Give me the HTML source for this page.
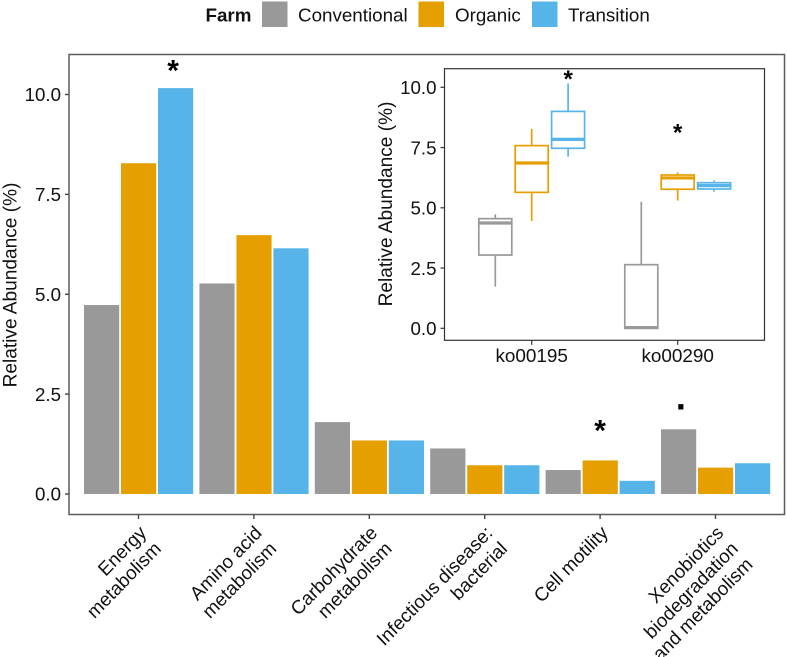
<!DOCTYPE html>
<html>
<head>
<meta charset="utf-8">
<style>
html,body{margin:0;padding:0;background:#fff;}
svg{display:block;font-family:"Liberation Sans",sans-serif;fill:#111;}
</style>
</head>
<body>
<svg id="chart" width="787" height="657" viewBox="0 0 787 657" xmlns="http://www.w3.org/2000/svg">
<rect width="787" height="657" fill="#fff"/>
<g font-size="18.8">
<text x="205.500" y="21.500" font-weight="bold">Farm</text>
<rect x="262" y="1.500" width="25.500" height="25.500" fill="#999999"/>
<text x="298" y="21.500">Conventional</text>
<rect x="418.500" y="1.500" width="25.500" height="25.500" fill="#E69F00"/>
<text x="455" y="21.500">Organic</text>
<rect x="532" y="1.500" width="25.500" height="25.500" fill="#56B4E9"/>
<text x="568" y="21.500">Transition</text>
</g>
<g id="main"></g>
<g id="inset"></g>
</svg>
<script>
var groupNames = ["Energy metabolism", "Amino acid metabolism", "Carbohydrate metabolism", "Infectious disease: bacterial", "Cell motility", "Xenobiotics biodegradation and metabolism"];
var groupLabelLines = [["Energy", "metabolism"], ["Amino acid", "metabolism"], ["Carbohydrate", "metabolism"], ["Infectious disease:", "bacterial"], ["Cell motility"], ["Xenobiotics", "biodegradation", "and metabolism"]];
var conventionalValues = [4.73, 5.27, 1.80, 1.14, 0.60, 1.62];
var organicValues = [8.28, 6.48, 1.34, 0.72, 0.84, 0.66];
var transitionValues = [10.16, 6.15, 1.34, 0.72, 0.33, 0.77];
var mainTicks = [0, 2.5, 5, 7.5, 10];
var markerSymbols = ["*", "*", "."];
var markerGroups = [0.3, 4, 4.7];
var markerHeights = [10.69, 1.68, 2.18];
var insetCategories = ["ko00195", "ko00290"];
var insetTicks = [0, 2.5, 5, 7.5, 10];
var boxConventional = [[1.73, 3.04, 4.37, 4.55, 4.73], [0, 0, 0.03, 2.64, 5.25]];
var boxOrganic = [[4.45, 5.64, 6.86, 7.58, 8.27], [5.30, 5.77, 6.24, 6.36, 6.47]];
var boxTransition = [[7.12, 7.47, 7.84, 9.00, 10.16], [5.67, 5.78, 5.92, 6.04, 6.14]];
var insetMarkerGroups = [0.25, 1];
var insetMarkerHeights = [10.42, 8.2];

var NS = "http://www.w3.org/2000/svg";
var COLORS = ["#999999", "#E69F00", "#56B4E9"];
var SERIES = ["conventional", "organic", "transition"];
function mk(parent, tag, attrs, text) {
  var el = document.createElementNS(NS, tag);
  for (var k in attrs) el.setAttribute(k, attrs[k]);
  if (text !== undefined) el.textContent = text;
  parent.appendChild(el);
  return el;
}
function slug(s) { return s.toLowerCase().replace(/[^a-z0-9]+/g, "-").replace(/-$/, ""); }

/* main chart */
var mainG = document.getElementById("main");
var P = {l: 69, r: 784.5, t: 54.5, b: 514.5};
function yMain(v) { return 494 - v * 39.95; }
function xMain(i) { return 138.5 + i * 115.4; }
var seriesValues = [conventionalValues, organicValues, transitionValues];

seriesValues.forEach(function (vals, s) {
  vals.forEach(function (v, i) {
    var bx = xMain(i) + (s - 1) * 37 - 17.5;
    var r = mk(mainG, "rect", {x: bx, y: yMain(v), width: 35.2, height: yMain(0) - yMain(v), fill: COLORS[s]});
    
    
  });
});
var frame = mk(mainG, "rect", {x: P.l, y: P.t, width: P.r - P.l, height: P.b - P.t, fill: "none", stroke: "#5c5c5c", "stroke-width": 1.5});



mainTicks.forEach(function (t) {
  var y = yMain(t);
  var tl = mk(mainG, "line", {x1: P.l - 4, x2: P.l, y1: y, y2: y, stroke: "#444", "stroke-width": 1.4});
  
  
  var lb = mk(mainG, "text", {x: 61, y: y + 6.7, "text-anchor": "end", "font-size": 18.7}, t.toFixed(1));
  
  
});
var yTitle = mk(mainG, "text", {transform: "translate(16.5,285) rotate(-90)", "text-anchor": "middle", "font-size": 19.1}, "Relative Abundance (%)");



groupLabelLines.forEach(function (lines, i) {
  var x = xMain(i);
  var tk = mk(mainG, "line", {x1: x, x2: x, y1: P.b, y2: P.b + 4.5, stroke: "#444", "stroke-width": 1.4});
  
  
  lines.forEach(function (line, j) {
    var lb = mk(mainG, "text", {transform: "translate(" + (x + 9 + j * 14.6) + "," + (534 + j * 15.8) + ") scale(1,1.03) rotate(-45)", "text-anchor": "end", "font-size": 18.7}, line);
    
    
  });
});

markerSymbols.forEach(function (sym, k) {
  var isDot = sym === ".";
  var t = mk(mainG, "text", {
    x: xMain(markerGroups[k]),
    y: yMain(markerHeights[k]) + (isDot ? 2.5 : 13.5),
    "text-anchor": "middle",
    "font-size": isDot ? 36 : 30,
    "font-weight": "bold",
    fill: "#000"
  }, sym);
  
  
});

/* inset chart */
var insetG = document.getElementById("inset");
var Q = {l: 444.5, r: 764.5, t: 68.7, b: 340.3};
function yIn(v) { return 328.3 - v * 24.1; }
function xIn(i) { return 531.7 + i * 146; }
var bg = mk(insetG, "rect", {x: Q.l, y: Q.t, width: Q.r - Q.l, height: Q.b - Q.t, fill: "#fff", stroke: "#333", "stroke-width": 1.2});



var boxSeries = [boxConventional, boxOrganic, boxTransition];
boxSeries.forEach(function (rows, s) {
  rows.forEach(function (d, i) {
    var cx = xIn(i) + (s - 1) * 36.4;
    var g = mk(insetG, "g", {fill: "none", stroke: COLORS[s], "stroke-width": 1.7});
    
    
    mk(g, "line", {x1: cx, x2: cx, y1: yIn(d[0]), y2: yIn(d[1])});
    mk(g, "line", {x1: cx, x2: cx, y1: yIn(d[3]), y2: yIn(d[4])});
    mk(g, "rect", {x: cx - 16.5, y: yIn(d[3]), width: 33, height: yIn(d[1]) - yIn(d[3]), fill: "#fff"});
    mk(g, "line", {x1: cx - 16.5, x2: cx + 16.5, y1: yIn(d[2]), y2: yIn(d[2]), "stroke-width": 3.2});
  });
});
insetTicks.forEach(function (t) {
  var y = yIn(t);
  var tl = mk(insetG, "line", {x1: Q.l - 4, x2: Q.l, y1: y, y2: y, stroke: "#333", "stroke-width": 1.2});
  
  
  var lb = mk(insetG, "text", {x: 436.5, y: y + 6.7, "text-anchor": "end", "font-size": 18.7}, t.toFixed(1));
  
  
});
insetCategories.forEach(function (c, i) {
  var x = xIn(i);
  var tk = mk(insetG, "line", {x1: x, x2: x, y1: Q.b, y2: Q.b + 4.5, stroke: "#333", "stroke-width": 1.2});
  
  
  var lb = mk(insetG, "text", {x: x, y: 362, "text-anchor": "middle", "font-size": 18.9}, c);
  
  
});
var inTitle = mk(insetG, "text", {transform: "translate(392,204) rotate(-90)", "text-anchor": "middle", "font-size": 19.1}, "Relative Abundance (%)");


insetMarkerGroups.forEach(function (g, k) {
  var t = mk(insetG, "text", {x: xIn(g), y: yIn(insetMarkerHeights[k]) + 10, "text-anchor": "middle", "font-size": 24, "font-weight": "bold", fill: "#000"}, "*");
  
  
});
</script>
</body>
</html>
